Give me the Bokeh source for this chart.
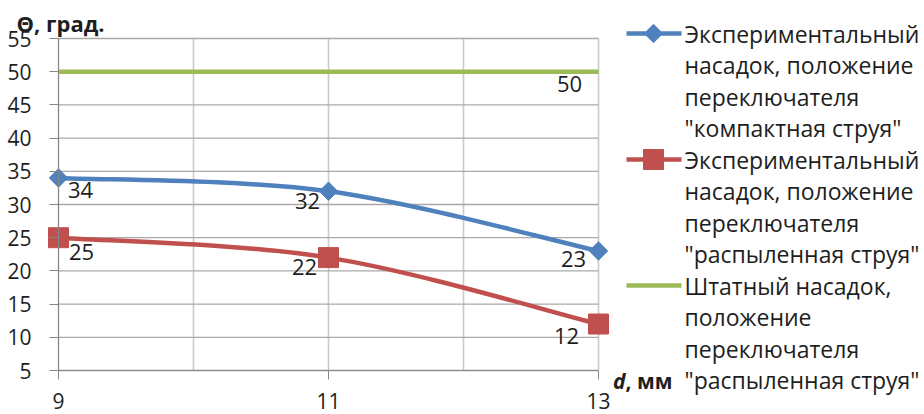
import numpy as np
from bokeh.plotting import figure
from bokeh.layouts import row
from bokeh.models import Range1d, FixedTicker, ColumnDataSource, Label
from bokeh.core.properties import value
from bokeh.embed import file_html
from bokeh.resources import INLINE

# --- data -------------------------------------------------------------
d_mm = [9, 11, 13]
theta_compact = [34, 32, 23]      # experimental nozzle, compact jet
theta_spray = [25, 22, 12]        # experimental nozzle, spray jet
theta_standard = [50, 50, 50]     # standard nozzle, spray jet

series_names = [
    ["Экспериментальный", "насадок, положение", "переключателя", "\"компактная струя\""],
    ["Экспериментальный", "насадок, положение", "переключателя", "\"распыленная струя\""],
    ["Штатный насадок,", "положение", "переключателя", "\"распыленная струя\""],
]
y_ticks = list(range(5, 60, 5))
x_ticks = [9, 11, 13]
x_grid = [9, 10, 11, 12, 13]
y_lo, y_hi = 5, 55
x_lo, x_hi = 9, 13

# --- style ------------------------------------------------------------
FONT = "Open Sans"
BLUE, RED, GREEN = "#4f81bd", "#c0504d", "#9bbb59"
TEXT = "#1e1e1e"
AXIS = "#868686"
HGRID = "#a9a9a9"
VGRID = "#cacaca"

# pixel offsets of the value labels (centre of text relative to point)
compact_lbl_dx, compact_lbl_dy = [22, -21, -25], [12, 10, 8]
spray_lbl_dx, spray_lbl_dy = [23, -24, -32], [14, 9, 12]
std_lbl_dx, std_lbl_dy = -29, 12

# canvas geometry (pixels): where the plotted area sits inside the chart
PLOT_W, PLOT_H = 612, 414
AREA_L, AREA_R, AREA_T, AREA_B = 58, 598, 38, 370
px_per_x = (AREA_R - AREA_L) / (x_hi - x_lo)
px_per_y = (AREA_B - AREA_T) / (y_hi - y_lo)


def x_at(px):
    return x_lo + (px - AREA_L) / px_per_x


def y_at(py):
    return y_lo + (AREA_B - py) / px_per_y


def smooth_beziers(xs, ys):
    """Catmull-Rom style smoothing turned into cubic Bezier segments."""
    xs = np.asarray(xs, float)
    ys = np.asarray(ys, float)
    n = len(xs)
    seg = dict(x0=[], y0=[], x1=[], y1=[], cx0=[], cy0=[], cx1=[], cy1=[])
    for i in range(n - 1):
        im1 = max(i - 1, 0)
        ip2 = min(i + 2, n - 1)
        seg["x0"].append(xs[i]); seg["y0"].append(ys[i])
        seg["x1"].append(xs[i + 1]); seg["y1"].append(ys[i + 1])
        seg["cx0"].append(xs[i] + (xs[i + 1] - xs[im1]) / 6)
        seg["cy0"].append(ys[i] + (ys[i + 1] - ys[im1]) / 6)
        seg["cx1"].append(xs[i + 1] - (xs[ip2] - xs[i]) / 6)
        seg["cy1"].append(ys[i + 1] - (ys[ip2] - ys[i]) / 6)
    return ColumnDataSource(seg)


# --- main chart (frame fills the canvas; axes sit inside it) -----------
p = figure(width=PLOT_W, height=PLOT_H, output_backend="svg", toolbar_location=None,
           x_range=Range1d(x_at(0), x_at(PLOT_W)),
           y_range=Range1d(y_at(PLOT_H), y_at(0)),
           min_border=0, min_border_left=0, min_border_right=0,
           min_border_top=0, min_border_bottom=0)
p.title = None
p.outline_line_color = None
p.background_fill_color = "white"
p.border_fill_color = "white"
p.xgrid.visible = False
p.ygrid.visible = False

p.xaxis.ticker = FixedTicker(ticks=x_ticks)
p.yaxis.ticker = FixedTicker(ticks=y_ticks)
p.xaxis.fixed_location = y_lo
p.yaxis.fixed_location = x_lo
p.xaxis.bounds = (x_lo, x_hi)
p.yaxis.bounds = (y_lo, y_hi)
for ax in (p.xaxis, p.yaxis):
    ax.axis_line_color = AXIS
    ax.major_tick_line_color = AXIS
    ax.major_tick_in = 0
    ax.major_tick_out = 9
    ax.minor_tick_line_color = None
    ax.major_label_text_font = FONT
    ax.major_label_text_font_size = "21px"
    ax.major_label_text_color = TEXT
p.xaxis.major_label_standoff = 13
p.yaxis.major_label_standoff = 18

# grid over the plotted area only
p.segment(x0=x_grid, x1=x_grid, y0=[y_lo] * len(x_grid), y1=[y_hi] * len(x_grid),
          line_color=VGRID, line_width=1.6)
p.segment(x0=[x_lo] * len(y_ticks), x1=[x_hi] * len(y_ticks),
          y0=y_ticks, y1=y_ticks, line_color=HGRID, line_width=1.3)

# standard nozzle
p.line(d_mm, theta_standard, line_color=GREEN, line_width=4.5)

# smoothed experimental curves
for vals, col in ((theta_compact, BLUE), (theta_spray, RED)):
    p.bezier(x0="x0", y0="y0", x1="x1", y1="y1", cx0="cx0", cy0="cy0",
             cx1="cx1", cy1="cy1", source=smooth_beziers(d_mm, vals),
             line_color=col, line_width=4.5)

p.scatter(d_mm, theta_compact, marker="square", angle=np.pi / 4, size=13,
          fill_color=BLUE, line_color=BLUE, line_width=1)
p.scatter(d_mm, theta_spray, marker="square", size=20,
          fill_color=RED, line_color=RED, line_width=1)

lbl_style = dict(text_font=value(FONT), text_font_size="22px", text_color=TEXT,
                 text_align="center", text_baseline="middle")
p.text(x=d_mm, y=theta_compact, text=[str(v) for v in theta_compact],
       x_offset=compact_lbl_dx, y_offset=compact_lbl_dy, **lbl_style)
p.text(x=d_mm, y=theta_spray, text=[str(v) for v in theta_spray],
       x_offset=spray_lbl_dx, y_offset=spray_lbl_dy, **lbl_style)
p.text(x=[d_mm[-1]], y=[theta_standard[-1]], text=[str(theta_standard[-1])],
       x_offset=std_lbl_dx, y_offset=std_lbl_dy, **lbl_style)

# y-axis title
p.add_layout(Label(x=x_at(16), y=y_at(22), text="Θ, град.", text_font=FONT,
                   text_font_size="22px", text_font_style="bold",
                   text_color=TEXT, text_align="left", text_baseline="middle"))

# --- legend panel and x-axis title -------------------------------------
LG_W = 924 - PLOT_W
lg = figure(width=LG_W, height=PLOT_H, output_backend="svg", toolbar_location=None,
            x_range=Range1d(PLOT_W, 924), y_range=Range1d(PLOT_H, 0),
            x_axis_location=None, y_axis_location=None,
            min_border=0, min_border_left=0, min_border_right=0,
            min_border_top=0, min_border_bottom=0)
lg.title = None
lg.outline_line_color = None
lg.xgrid.visible = False
lg.ygrid.visible = False
lg.border_fill_color = "white"

line_h = 31.5
first_y = 33
sym_x0, sym_x1, sym_xc, txt_x = 626, 681, 653, 684
colors = [BLUE, RED, GREEN]
for k, (names, col) in enumerate(zip(series_names, colors)):
    y0 = first_y + 4 * k * line_h
    lg.line([sym_x0, sym_x1], [y0, y0], line_color=col, line_width=4.5)
    if k == 0:
        lg.scatter([sym_xc], [y0], marker="square", angle=np.pi / 4, size=13,
                   fill_color=col, line_color=col, line_width=1)
    elif k == 1:
        lg.scatter([sym_xc], [y0], marker="square", size=20,
                   fill_color=col, line_color=col, line_width=1)
    lg.text(x=[txt_x] * len(names), y=[y0 + j * line_h for j in range(len(names))],
            text=names, text_font=value(FONT), text_font_size="23px",
            text_color=TEXT, text_align="left", text_baseline="middle")

lg.text(x=[625], y=[380], text=[", мм"], text_font=value(FONT),
        text_font_size="21px", text_font_style="bold", text_color=TEXT,
        text_align="left", text_baseline="middle")
lg.text(x=[625], y=[380], text=["d"], text_font=value(FONT),
        text_font_size="21px", text_font_style="bold italic", text_color=TEXT,
        text_align="right", text_baseline="middle")

layout = row(p, lg)
open("out.html", "w").write(file_html(layout, INLINE))
